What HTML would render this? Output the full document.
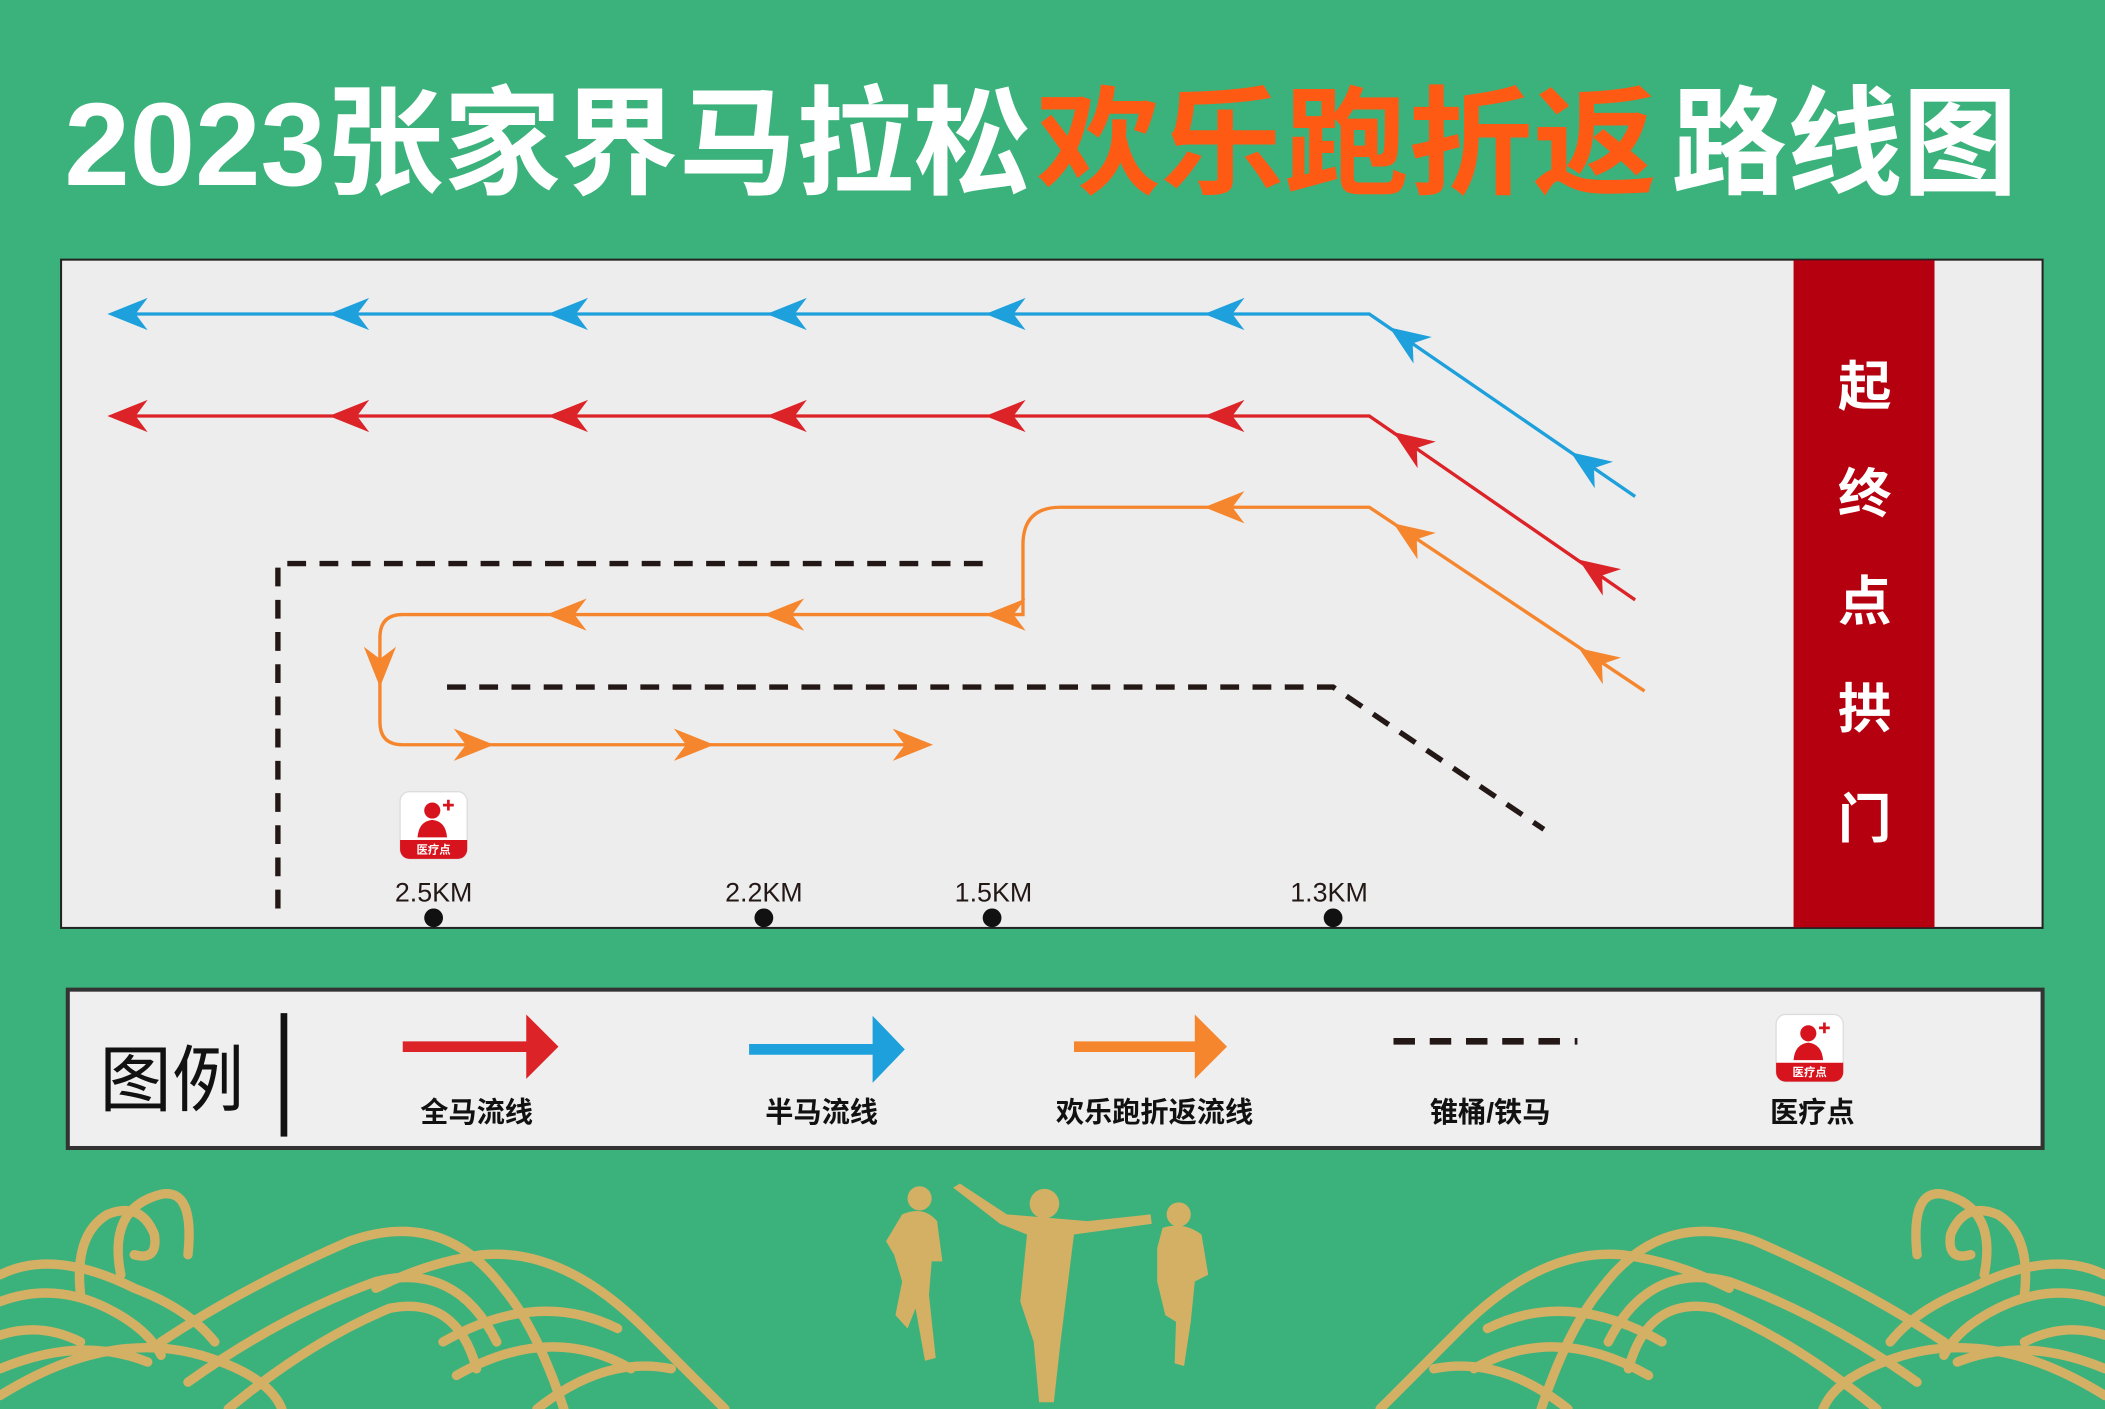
<!DOCTYPE html>
<html><head><meta charset="utf-8"><style>
html,body{margin:0;padding:0;background:#3bb27b;}
svg{display:block}
text{font-family:"Liberation Sans","Noto Sans CJK SC",sans-serif;}
</style></head><body>
<svg width="2105" height="1409" viewBox="0 0 1568 1050" preserveAspectRatio="none" xmlns="http://www.w3.org/2000/svg">
<defs>
<path id="ah" d="M0,0 L30,-12 L21,0 L30,12Z"/>
<g id="med">
<rect x="0" y="0" width="50" height="50" rx="7" fill="#fff" stroke="#ddd"/>
<path d="M0,36 H50 V43 A7,7 0 0 1 43,50 H7 A7,7 0 0 1 0,43Z" fill="#d7141e"/>
<circle cx="24" cy="14" r="6" fill="#d7141e"/>
<path d="M13,34 Q14,22 24,21 Q34,22 35,34Z" fill="#d7141e"/>
<path d="M35,6 h2 v3 h3 v2 h-3 v3 h-2 v-3 h-3 v-2 h3z" fill="#d7141e"/>
<text x="25" y="46" font-size="8.5" font-weight="bold" fill="#fff" text-anchor="middle">医疗点</text>
</g>
<g id="wave" fill="none" stroke="#d4b064" stroke-width="7" stroke-linecap="round">
<path d="M0,950 Q40,930 100,960 Q140,975 160,1000"/>
<path d="M0,970 Q40,955 80,975 Q110,990 120,1010"/>
<path d="M0,995 Q30,985 60,1000"/>
<path d="M60,965 Q55,920 80,905 Q105,895 115,920 Q118,940 100,935"/>
<path d="M90,950 Q80,900 120,890 Q145,885 140,935"/>
<path d="M120,1000 Q180,960 260,925 Q330,900 375,960 Q400,990 420,1050"/>
<path d="M140,1030 Q210,980 280,955 Q340,940 370,1000"/>
<path d="M170,1050 Q230,1000 290,975 Q340,965 355,1020"/>
<path d="M0,1040 Q80,990 150,1010 Q200,1025 210,1050"/>
<path d="M0,1020 Q60,995 110,1015"/>
<path d="M280,960 Q320,940 360,935 Q420,930 480,990 Q520,1030 540,1050"/>
<path d="M330,1000 Q400,960 460,990"/>
<path d="M340,1025 Q410,985 470,1020"/>
<path d="M400,1050 Q450,1010 500,1020"/>
</g>
</defs>
<rect width="1568" height="1050" fill="#3bb27b"/>
<text x="48" y="138" font-size="88" font-weight="bold" fill="#fff" textLength="720" lengthAdjust="spacingAndGlyphs">2023张家界马拉松</text>
<text x="772" y="138" font-size="88" font-weight="bold" fill="#ff5a14" textLength="462" lengthAdjust="spacingAndGlyphs">欢乐跑折返</text>
<text x="1245" y="138" font-size="88" font-weight="bold" fill="#fff" textLength="258" lengthAdjust="spacingAndGlyphs">路线图</text>

<rect x="45.5" y="193.5" width="1476" height="498" fill="#ededed" stroke="#222" stroke-width="1.5"/>
<rect x="1336" y="194" width="105" height="497" fill="#b5000f"/>
<g font-size="40" font-weight="bold" fill="#fff" text-anchor="middle">
<text x="1389" y="302">起</text><text x="1389" y="382">终</text><text x="1389" y="462">点</text><text x="1389" y="542">拱</text><text x="1389" y="624">门</text>
</g>

<g fill="none" stroke="#231815" stroke-width="4" stroke-dasharray="14,10">
<path d="M207,677 V420 H738"/>
<path d="M333,512 H993 L1150,618"/>
</g>

<path d="M85,234 H1020 L1218,370" fill="none" stroke="#1ea0dc" stroke-width="2.5"/>
<g fill="#1ea0dc">
<use href="#ah" x="80" y="234"/><use href="#ah" x="245" y="234"/><use href="#ah" x="408" y="234"/><use href="#ah" x="571" y="234"/><use href="#ah" x="734" y="234"/><use href="#ah" x="897" y="234"/>
<use href="#ah" transform="translate(1035,244) rotate(34.5)"/><use href="#ah" transform="translate(1170,337) rotate(34.5)"/>
</g>
<path d="M85,310 H1020 L1218,447" fill="none" stroke="#dc2328" stroke-width="2.5"/>
<g fill="#dc2328">
<use href="#ah" x="80" y="310"/><use href="#ah" x="245" y="310"/><use href="#ah" x="408" y="310"/><use href="#ah" x="571" y="310"/><use href="#ah" x="734" y="310"/><use href="#ah" x="897" y="310"/>
<use href="#ah" transform="translate(1038,322) rotate(34.5)"/><use href="#ah" transform="translate(1176,417) rotate(34.5)"/>
</g>
<path d="M1225,515 L1020,378 H790 Q762,378 762,406 V458 H300 Q283,458 283,475 V538 Q283,555 300,555 H690" fill="none" stroke="#f5862d" stroke-width="2.5"/>
<g fill="#f5862d">
<use href="#ah" transform="translate(1038,390) rotate(34.5)"/><use href="#ah" transform="translate(1176,483) rotate(34.5)"/>
<use href="#ah" x="897" y="378"/><use href="#ah" x="734" y="458"/><use href="#ah" x="569" y="458"/><use href="#ah" x="407" y="458"/>
<use href="#ah" transform="translate(283,512) rotate(-90)"/>
<use href="#ah" transform="translate(368,555) rotate(180)"/><use href="#ah" transform="translate(532,555) rotate(180)"/><use href="#ah" transform="translate(695,555) rotate(180)"/>
</g>

<use href="#med" x="298" y="590"/>
<g font-size="20" fill="#231815" text-anchor="middle">
<text x="323" y="672">2.5KM</text><text x="569" y="672">2.2KM</text><text x="740" y="672">1.5KM</text><text x="990" y="672">1.3KM</text>
</g>
<g fill="#111"><circle cx="323" cy="684" r="7"/><circle cx="569" cy="684" r="7"/><circle cx="739" cy="684" r="7"/><circle cx="993" cy="684" r="7"/></g>

<rect x="50.5" y="737.5" width="1471" height="118" fill="#efefef" stroke="#333" stroke-width="3"/>
<text x="74" y="824" font-size="54" fill="#111">图例</text>
<rect x="209" y="755" width="5" height="92" fill="#111"/>
<path d="M300,776 H392 V756 L416,780 L392,804 V784 H300Z" fill="#dc2328"/>
<path d="M558,778 H650 V757 L674,782 L650,807 V786 H558Z" fill="#1ea0dc"/>
<path d="M800,776 H890 V756 L914,780 L890,804 V784 H800Z" fill="#f5862d"/>
<path d="M1038,776 H1175" stroke="#231815" stroke-width="5" stroke-dasharray="16,11"/>
<use href="#med" x="1323" y="756"/>
<g font-size="21" font-weight="bold" fill="#111" text-anchor="middle">
<text x="355" y="836">全马流线</text><text x="612" y="836">半马流线</text><text x="860" y="836">欢乐跑折返流线</text><text x="1110" y="836">锥桶/铁马</text><text x="1350" y="836">医疗点</text>
</g>

<use href="#wave"/>
<use href="#wave" transform="translate(1568,0) scale(-1,1)"/>
<g fill="#d4b064">
<circle cx="685" cy="893" r="9"/><path d="M672,905 Q688,898 698,910 L702,940 L694,940 L692,965 L697,1012 L689,1014 L682,975 L676,990 L667,980 L672,955 L666,935 L660,925Z"/>
<circle cx="778" cy="897" r="11"/><path d="M710,885 L715,882 L750,905 L810,910 L857,905 L858,912 L800,920 L795,960 L790,1000 L785,1045 L774,1045 L770,1000 L760,970 L765,920 L745,912Z"/>
<circle cx="878" cy="905" r="9"/><path d="M866,915 Q882,910 895,920 L900,950 L890,955 L887,985 L882,1018 L875,1016 L876,985 L868,980 L862,955 L862,930Z"/>
</g>
</svg>
</body></html>
